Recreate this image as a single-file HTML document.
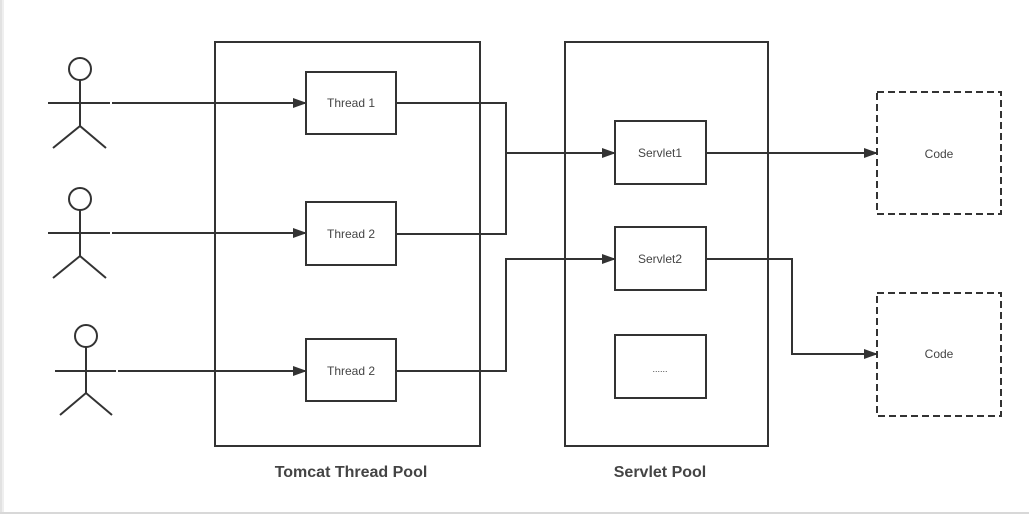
<!DOCTYPE html>
<html><head><style>
html,body{margin:0;padding:0;background:#fff;}
svg{display:block}
text{font-family:"Liberation Sans","DejaVu Sans",sans-serif;fill:#444}
</style></head><body>
<svg width="1029" height="514" viewBox="0 0 1029 514">
<defs>
<marker id="a" markerWidth="14" markerHeight="10" refX="13" refY="5" orient="auto" markerUnits="userSpaceOnUse">
<path d="M0,0 L14,5 L0,10 Z" fill="#333"/>
</marker>
</defs>
<rect x="0" y="0" width="2" height="514" fill="#e2e2e2"/>
<rect x="2" y="0" width="2" height="514" fill="#efefef"/>
<rect x="0" y="512" width="1029" height="2" fill="#d8d8d8"/>
<g stroke="#333" stroke-width="2" fill="none">
<circle cx="80" cy="69" r="11"/><path d="M80,80V126M53,148L80,126L106,148"/>
<circle cx="80" cy="199" r="11"/><path d="M80,210V256M53,278L80,256L106,278"/>
<circle cx="86" cy="336" r="11"/><path d="M86,347V393M60,415L86,393L112,415"/>
<rect x="215" y="42" width="265" height="404"/>
<rect x="565" y="42" width="203" height="404"/>
<rect x="306" y="72" width="90" height="62"/>
<rect x="306" y="202" width="90" height="63"/>
<rect x="306" y="339" width="90" height="62"/>
<rect x="615" y="121" width="91" height="63"/>
<rect x="615" y="227" width="91" height="63"/>
<rect x="615" y="335" width="91" height="63"/>
<rect x="877" y="92" width="124" height="122" stroke-dasharray="7,4"/>
<rect x="877" y="293" width="124" height="123" stroke-dasharray="7,4"/>
<path d="M48,103H110M112,103H306" marker-end="url(#a)"/>
<path d="M48,233H110M112,233H306" marker-end="url(#a)"/>
<path d="M55,371H116M118,371H306" marker-end="url(#a)"/>
<path d="M396,103H506V234H396"/>
<path d="M506,153H615" marker-end="url(#a)"/>
<path d="M396,371H506V259H615" marker-end="url(#a)"/>
<path d="M706,153H877" marker-end="url(#a)"/>
<path d="M706,259H792V354H877" marker-end="url(#a)"/>
</g>
<g font-size="12" text-anchor="middle">
<text x="351" y="107">Thread 1</text>
<text x="351" y="238">Thread 2</text>
<text x="351" y="375">Thread 2</text>
<text x="660" y="157">Servlet1</text>
<text x="660" y="263">Servlet2</text>
<text x="660" y="372" font-size="9">......</text>
<text x="939" y="158">Code</text>
<text x="939" y="358">Code</text>
</g>
<g font-size="16" font-weight="bold" text-anchor="middle">
<text x="351" y="477" fill="#333">Tomcat Thread Pool</text>
<text x="660" y="477" fill="#333">Servlet Pool</text>
</g>
</svg>
</body></html>
